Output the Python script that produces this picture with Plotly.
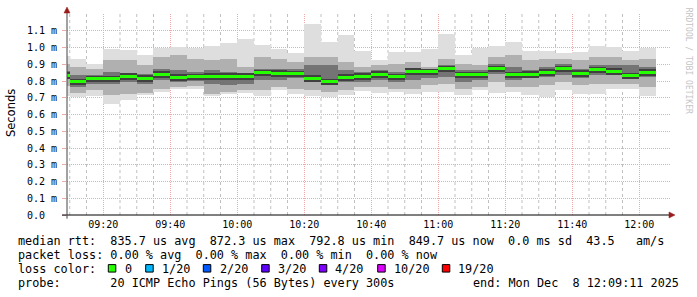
import plotly.graph_objects as go
import pandas as pd

# ---- data (milliseconds) ----
times = ["09:05", "09:10", "09:15", "09:20", "09:25", "09:30", "09:35", "09:40", "09:45",
         "09:50", "09:55", "10:00", "10:05", "10:10", "10:15", "10:20", "10:25", "10:30",
         "10:35", "10:40", "10:45", "10:50", "10:55", "11:00", "11:05", "11:10", "11:15",
         "11:20", "11:25", "11:30", "11:35", "11:40", "11:45", "11:50", "11:55", "12:00"]

rtt_max = [0.950, 0.929, 0.904, 0.990, 0.984, 0.953, 1.000, 1.006, 0.995,
           1.007, 1.027, 1.049, 1.013, 0.989, 0.965, 1.138, 1.031, 1.073,
           0.979, 0.924, 0.973, 0.973, 0.989, 1.080, 0.958, 0.998, 1.007,
           1.031, 0.980, 0.977, 0.966, 0.973, 1.007, 1.003, 0.980, 0.998]
rtt_hi = [0.900, 0.884, 0.874, 0.924, 0.924, 0.894, 0.944, 0.953, 0.934,
          0.924, 0.934, 0.884, 0.944, 0.934, 0.914, 0.944, 0.944, 0.914,
          0.884, 0.898, 0.904, 0.914, 0.884, 0.934, 0.904, 0.894, 0.944,
          0.953, 0.924, 0.934, 0.934, 0.924, 0.944, 0.944, 0.924, 0.934]
rtt_hi2 = [0.860, 0.835, 0.835, 0.854, 0.850, 0.844, 0.874, 0.864, 0.854,
           0.864, 0.854, 0.844, 0.874, 0.874, 0.874, 0.894, 0.894, 0.864,
           0.854, 0.864, 0.854, 0.874, 0.864, 0.894, 0.864, 0.864, 0.904,
           0.884, 0.864, 0.884, 0.904, 0.874, 0.894, 0.894, 0.894, 0.884]
rtt_median = [0.833, 0.795, 0.813, 0.813, 0.827, 0.817, 0.840, 0.821, 0.826,
              0.829, 0.829, 0.829, 0.848, 0.846, 0.842, 0.817, 0.797, 0.821,
              0.829, 0.839, 0.826, 0.859, 0.855, 0.873, 0.836, 0.836, 0.872,
              0.836, 0.840, 0.851, 0.874, 0.845, 0.867, 0.859, 0.830, 0.851]
rtt_lo2 = [0.810, 0.765, 0.785, 0.785, 0.795, 0.785, 0.805, 0.795, 0.798,
           0.785, 0.775, 0.785, 0.805, 0.805, 0.815, 0.795, 0.785, 0.795,
           0.795, 0.805, 0.795, 0.805, 0.815, 0.825, 0.795, 0.805, 0.844,
           0.805, 0.815, 0.825, 0.835, 0.815, 0.835, 0.835, 0.815, 0.825]
rtt_lo = [0.770, 0.731, 0.745, 0.715, 0.725, 0.731, 0.755, 0.765, 0.771,
          0.725, 0.735, 0.745, 0.745, 0.765, 0.755, 0.745, 0.735, 0.745,
          0.765, 0.765, 0.755, 0.755, 0.775, 0.785, 0.755, 0.765, 0.795,
          0.765, 0.765, 0.775, 0.795, 0.775, 0.785, 0.785, 0.785, 0.765]
rtt_min = [0.710, 0.706, 0.708, 0.664, 0.688, 0.715, 0.732, 0.753, 0.752,
           0.711, 0.725, 0.729, 0.711, 0.745, 0.722, 0.709, 0.706, 0.715,
           0.739, 0.731, 0.735, 0.721, 0.733, 0.735, 0.715, 0.747, 0.729,
           0.733, 0.715, 0.706, 0.748, 0.723, 0.725, 0.752, 0.750, 0.713]

y_ticks = [0.0, 0.1, 0.2, 0.3, 0.4, 0.5, 0.6, 0.7, 0.8, 0.9, 1.0, 1.1]
y_ticklabels = ["0.0\u00a0\u00a0", "0.1 m", "0.2 m", "0.3 m", "0.4 m", "0.5 m", "0.6 m",
                "0.7 m", "0.8 m", "0.9 m", "1.0 m", "1.1 m"]

loss_labels = ["0", "1/20", "2/20", "3/20", "4/20", "10/20", "19/20"]
loss_colors = ["#26ff00", "#00b8ff", "#0059ff", "#5e00ff", "#7e00ff", "#dd00ff", "#ff0000"]

line1 = "median rtt:  835.7 us avg  872.3 us max  792.8 us min  849.7 us now  0.0 ms sd  43.5   am/s"
line2 = "packet loss: 0.00 % avg  0.00 % max  0.00 % min  0.00 % now"
line4a = "probe:       20 ICMP Echo Pings (56 Bytes) every 300s"
line4b = "end: Mon Dec  8 12:09:11 2025"

# ---- geometry ----
W_PX, H_PX = 697, 297
L, R, T, B = 67, 27, 13.5, 81.7
PW = W_PX - L - R
PH = H_PX - T - B
YMAX = 1.2


def px(x):
    return (x - L) / PW


def py(y):
    return (H_PX - B - y) / PH


DAY = "2025-12-08 "
starts = pd.to_datetime([DAY + t for t in times])
centers = starts + pd.Timedelta(minutes=2.5)
BW = 5 * 60 * 1000
XRANGE = [DAY + "09:09:11", DAY + "12:09:11"]

fig = go.Figure()


def band(lo, hi, color):
    fig.add_trace(go.Bar(
        x=centers, base=lo, y=[h - l for h, l in zip(hi, lo)], width=BW,
        marker=dict(color=color, line=dict(width=0)),
        hoverinfo="skip", showlegend=False))


band(rtt_min, rtt_max, "#dedede")
band(rtt_lo, rtt_hi, "#b0b0b0")
band(rtt_lo2, rtt_hi2, "#747474")

# darkest smoke right around the median, then the median marker itself
pxu = YMAX / PH
band([m - 3.5 * pxu for m in rtt_median], [m + 3 * pxu for m in rtt_median], "#404040")
band([m - 1.5 * pxu for m in rtt_median], [m + 1.5 * pxu for m in rtt_median], loss_colors[0])

MONO = "DejaVu Sans Mono"
PINK = "#f2a8a8"
DOT = "1px,1px"

fig.update_layout(
    width=W_PX, height=H_PX,
    margin=dict(l=L, r=R, t=T, b=B, pad=0),
    paper_bgcolor="white", plot_bgcolor="white",
    barmode="overlay", bargap=0,
    showlegend=False,
    xaxis=dict(
        type="date",
        range=XRANGE,
        tick0=DAY + "09:20", dtick=20 * 60 * 1000, tickformat="%H:%M",
        showgrid=True, gridcolor=PINK, griddash=DOT, gridwidth=1,
        zeroline=False, showline=False, ticks="",
        tickfont=dict(family=MONO, size=10, color="#000000"),
        ticklabelstandoff=2,
    ),
    yaxis=dict(
        range=[0, YMAX], tickvals=y_ticks, ticktext=y_ticklabels,
        showgrid=True, gridcolor=PINK, griddash=DOT, gridwidth=1,
        zeroline=False, showline=False,
        ticks="outside", ticklen=4, tickcolor=PINK, tickwidth=1,
        tickfont=dict(family=MONO, size=10, color="#000000"),
        ticklabelstandoff=3,
    ),
)

shapes = []
# minor (5-minute) grid lines that do not fall on a 20-minute major line
for s in starts:
    if s.minute % 20 != 0 and s >= pd.Timestamp(XRANGE[0]):
        shapes.append(dict(type="line", xref="x", yref="paper", x0=s, x1=s, y0=0, y1=1,
                           layer="below", line=dict(color="#c0c0c0", width=1, dash="dot")))

AX = "#000000"
ARR = "#9b1b1b"
# axis lines
shapes.append(dict(type="line", xref="paper", yref="paper", x0=px(62), x1=px(671),
                   y0=py(215.3), y1=py(215.3), line=dict(color=AX, width=1)))
shapes.append(dict(type="line", xref="paper", yref="paper", x0=px(67), x1=px(67),
                   y0=py(219), y1=py(11), line=dict(color="#444444", width=1)))
# arrows
shapes.append(dict(type="path", xref="paper", yref="paper",
                   path="M %f,%f L %f,%f L %f,%f Z" % (px(64), py(12.5), px(70), py(12.5), px(67), py(6.5)),
                   fillcolor=ARR, line=dict(color=ARR, width=0.5)))
shapes.append(dict(type="path", xref="paper", yref="paper",
                   path="M %f,%f L %f,%f L %f,%f Z" % (px(669), py(212.3), px(669), py(218.3), px(675), py(215.3)),
                   fillcolor=ARR, line=dict(color=ARR, width=0.5)))

annotations = []


def text(x, y, s, size=11.8, anchor="left", family=MONO, color="#000000", angle=0):
    annotations.append(dict(
        xref="paper", yref="paper", x=px(x), y=py(y), text=s.replace(" ", "\u00a0"),
        showarrow=False, xanchor=anchor, yanchor="middle", textangle=angle,
        font=dict(family=family, size=size, color=color)))


text(16, 241.5, line1)
text(16, 255.5, line2)
text(16, 269.3, "loss color:")
text(16, 283.3, line4a)
text(680.5, 283.3, line4b, anchor="right")

box_x = [108.3, 145.7, 203.3, 261.7, 319.3, 377.7, 442.3]
lab_x = [122.5, 159.5, 217.5, 275.8, 333.2, 391.8, 456.0]
for bx, lx, lab, col in zip(box_x, lab_x, loss_labels, loss_colors):
    shapes.append(dict(type="rect", xref="paper", yref="paper",
                       x0=px(bx), x1=px(bx + 7.5), y0=py(272.6), y1=py(265.1),
                       fillcolor=col, line=dict(color="#000000", width=1)))
    text(lx, 269.3, lab)

text(11, 113, "Seconds", size=11.5, anchor="center", family="DejaVu Sans", angle=-90)
text(688.5, 60, "RRDTOOL / TOBI OETIKER", size=8, anchor="center", color="#c4c4c4", angle=90)

fig.update_layout(shapes=shapes, annotations=annotations)
fig.write_html("out.html")
